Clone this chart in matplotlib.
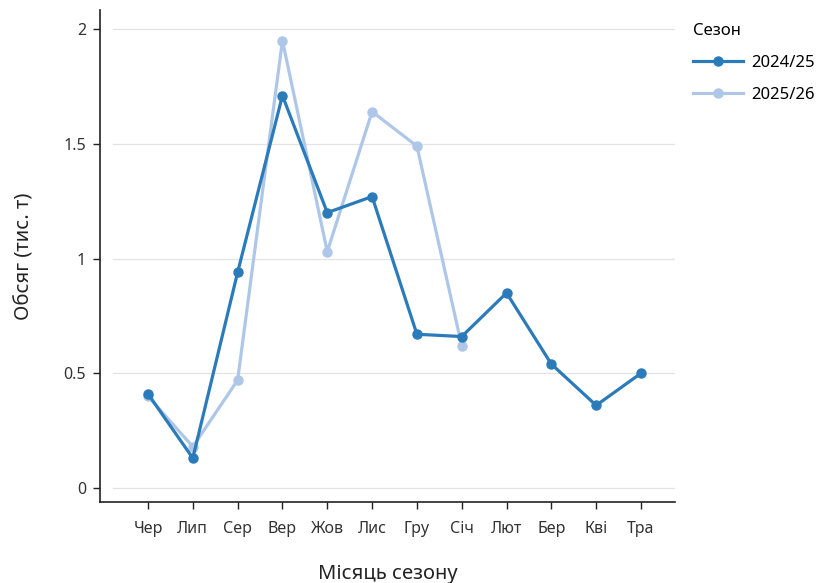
import matplotlib.pyplot as plt

plt.rcParams['font.family'] = ['Noto Sans', 'DejaVu Sans']

months = ['Чер', 'Лип', 'Сер', 'Вер', 'Жов', 'Лис', 'Гру', 'Січ', 'Лют', 'Бер', 'Кві', 'Тра']
s2425 = [0.41, 0.13, 0.94, 1.71, 1.20, 1.27, 0.67, 0.66, 0.85, 0.54, 0.36, 0.50]
s2526 = [0.40, 0.18, 0.47, 1.95, 1.03, 1.64, 1.49, 0.62]
yticks = [0, 0.5, 1, 1.5, 2]
ytick_labels = ['0', '0.5', '1', '1.5', '2']

dark = '#2b7bba'
light = '#aec7e8'

fig = plt.figure(figsize=(8.23, 5.83), dpi=100)
ax = fig.add_axes([100 / 823, 1 - 502 / 583, 575 / 823, 492 / 583])

for y in yticks:
    ax.axhline(y, xmin=13 / 575, xmax=1, color='#e3e3e3', lw=0.9, zorder=0)

x1 = list(range(len(s2425)))
x2 = list(range(len(s2526)))
ax.plot(x1, s2425, color=dark, lw=2.3, marker='o', ms=6.5, label='2024/25', zorder=3)
ax.plot(x2, s2526, color=light, lw=2.3, marker='o', ms=6.5, label='2025/26', zorder=2)

ax.set_xlim(-1.071, 11.759)
ax.set_ylim(-0.061, 2.083)
ax.set_xticks(x1)
ax.set_xticklabels(months)
ax.set_yticks(yticks)
ax.set_yticklabels(ytick_labels)

for s in ['top', 'right']:
    ax.spines[s].set_visible(False)
for s in ['left', 'bottom']:
    ax.spines[s].set_linewidth(1.2)
    ax.spines[s].set_color('#222222')
ax.tick_params(axis='both', length=5, width=1, color='#222222', labelsize=11.5,
               labelcolor='#333333', pad=5)
ax.tick_params(axis='x', pad=9)

ax.set_xlabel('Місяць сезону', fontsize=14.5, color='#222222', labelpad=19)
ax.set_ylabel('Обсяг (тис. т)', fontsize=14.5, color='#222222', labelpad=21)

leg = ax.legend(title='Сезон', loc='upper left', bbox_to_anchor=(678 / 823, 1 - 8 / 583),
                bbox_transform=fig.transFigure, frameon=False, fontsize=12,
                title_fontsize=12, handlelength=3.0, labelspacing=0.95,
                handletextpad=0.5, alignment='left')

fig.savefig('out.png', dpi=100)
